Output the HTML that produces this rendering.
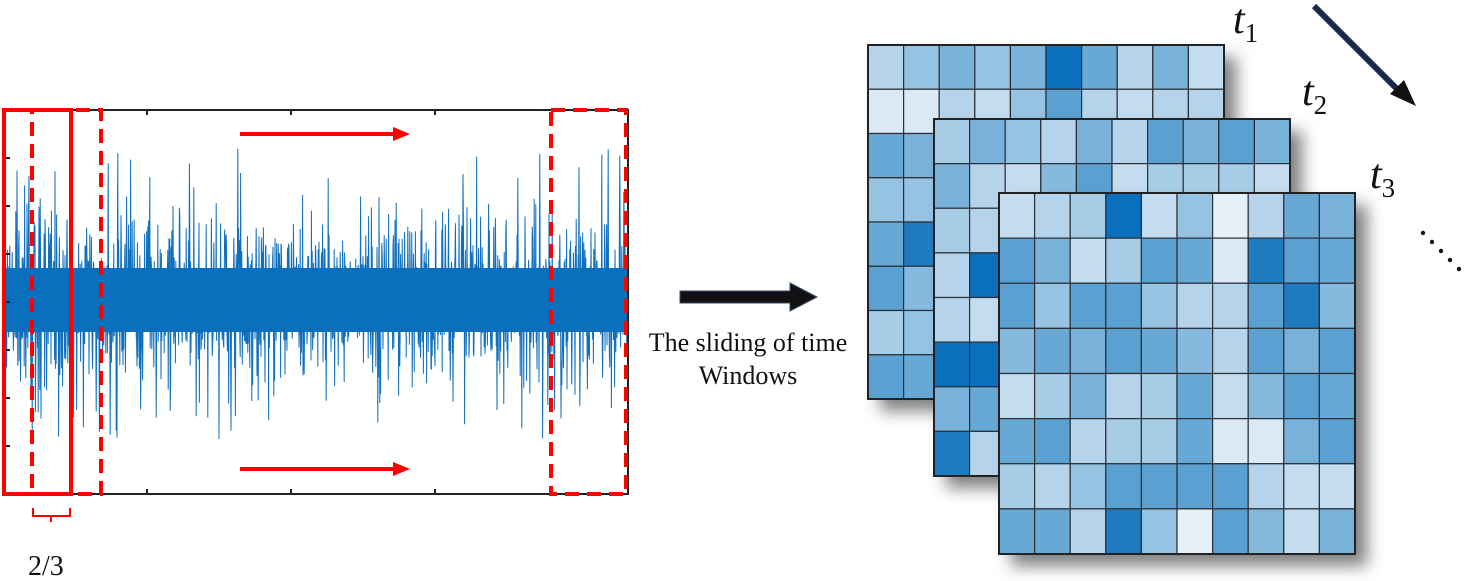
<!DOCTYPE html>
<html><head><meta charset="utf-8"><style>
html,body{margin:0;padding:0;background:#fff;width:1467px;height:581px;overflow:hidden;position:relative;font-family:"Liberation Serif",serif}
.t{position:absolute;font-style:italic;font-size:42px;color:#111}
.t sub{font-size:27px;font-style:normal;vertical-align:-9px}
.lbl{position:absolute;font-size:26px;color:#111;text-align:center;white-space:nowrap}
</style></head><body>
<svg id="s" width="1467" height="581" style="position:absolute;left:0;top:0">
<defs>
<filter id="sh" x="-10%" y="-10%" width="130%" height="130%"><feDropShadow dx="12" dy="12" stdDeviation="8" flood-color="#000" flood-opacity="0.5"/></filter>
</defs>
<g id="sig"></g>
<rect x="4" y="110" width="624" height="384" fill="none" stroke="#222" stroke-width="2"/>
<g stroke="#222" stroke-width="2">
<line x1="4" y1="158" x2="10" y2="158"/><line x1="4" y1="206" x2="10" y2="206"/><line x1="4" y1="254" x2="10" y2="254"/><line x1="4" y1="302" x2="10" y2="302"/><line x1="4" y1="350" x2="10" y2="350"/><line x1="4" y1="398" x2="10" y2="398"/><line x1="4" y1="446" x2="10" y2="446"/>
<line x1="147" y1="110" x2="147" y2="115"/><line x1="291" y1="110" x2="291" y2="115"/><line x1="435" y1="110" x2="435" y2="115"/><line x1="147" y1="494" x2="147" y2="489"/><line x1="291" y1="494" x2="291" y2="489"/><line x1="435" y1="494" x2="435" y2="489"/>
</g>
<rect x="4" y="110" width="67" height="384" fill="none" stroke="#f00" stroke-width="4"/>
<rect x="32" y="110" width="69" height="384" fill="none" stroke="#f00" stroke-width="4" stroke-dasharray="14,8"/>
<rect x="551" y="110" width="75" height="384" fill="none" stroke="#f00" stroke-width="4" stroke-dasharray="14,8"/>
<g fill="#f00" stroke="#f00" stroke-width="4">
<line x1="240" y1="134" x2="395" y2="134"/><path d="M393,127L410,134L393,141z" stroke="none"/>
<line x1="240" y1="469" x2="395" y2="469"/><path d="M393,462L410,469L393,476z" stroke="none"/>
</g>
<path d="M33,508 v8 h37 v-8 M51,516 v6" fill="none" stroke="#f00" stroke-width="2"/>
<path d="M680,291 h110 v-8 l27,14 l-27,14 v-8 h-110z" fill="#111" stroke="#3a4a6a" stroke-width="1"/>
<line x1="1314" y1="6" x2="1400" y2="92" stroke="#1a2a4a" stroke-width="6"/>
<path d="M1390,94 L1416,106 L1404,80 z" fill="#111"/>
<g fill="#111"><circle cx="1423" cy="233" r="2.2"/><circle cx="1432" cy="242" r="2.2"/><circle cx="1441" cy="251" r="2.2"/><circle cx="1450" cy="260" r="2.2"/><circle cx="1459" cy="269" r="2.2"/></g>
<g id="mats"></g>
</svg>
<div class="t" style="left:1233px;top:-4px">t<sub>1</sub></div>
<div class="t" style="left:1302px;top:68px">t<sub>2</sub></div>
<div class="t" style="left:1370px;top:151px">t<sub>3</sub></div>
<div class="lbl" style="left:640px;top:328px;width:216px">The sliding of time</div>
<div class="lbl" style="left:640px;top:361px;width:216px">Windows</div>
<div class="lbl" style="left:28px;top:551px;font-size:28px">2/3</div>
<script>
var ns="http://www.w3.org/2000/svg";
var seed=7;function r(){seed=(seed*16807)%2147483647;return seed/2147483647;}
function g(){return (r()+r()+r()+r()+r()+r()-3)/0.707;}
var d="M5,300";
for(var x=5;x<627;x+=0.4){var s=g()*36*(r()<0.25?1.9:1);var y=300+s;if(y<148)y=148+r()*20;if(y>442)y=442-r()*20;d+="L"+x.toFixed(2)+","+y.toFixed(1);}
var p=document.createElementNS(ns,"path");p.setAttribute("d",d);p.setAttribute("stroke","#1170bd");p.setAttribute("stroke-width","1");p.setAttribute("fill","none");
document.getElementById("sig").appendChild(p);
var band=document.createElementNS(ns,"rect");band.setAttribute("x",5);band.setAttribute("y",268);band.setAttribute("width",622);band.setAttribute("height",64);band.setAttribute("fill","#0a6fbd");document.getElementById("sig").appendChild(band);
var pal=["#c4dcef","#b5d4eb","#a6cce6","#96c3e2","#86b9de","#78b1da","#68a8d5","#5aa0d1","#4b96cc","#1f7bc0","#0a6fbd","#dbe9f5","#e6f0f8"];
function mat(x0,y0,w,h){var gg=document.getElementById("mats");
var grp=document.createElementNS(ns,"g");grp.setAttribute("filter","url(#sh)");gg.appendChild(grp);
var cw=w/10,ch=h/8;
var bg=document.createElementNS(ns,"rect");bg.setAttribute("x",x0);bg.setAttribute("y",y0);bg.setAttribute("width",w);bg.setAttribute("height",h);bg.setAttribute("fill","#9cc6e4");grp.appendChild(bg);
var g2=document.createElementNS(ns,"g");gg.appendChild(g2);
for(var i=0;i<8;i++)for(var j=0;j<10;j++){var k=Math.floor(r()*8);if(r()<0.05)k=9+Math.floor(r()*2);if(r()<0.06)k=11+Math.floor(r()*2);
var c=document.createElementNS(ns,"rect");c.setAttribute("x",x0+j*cw);c.setAttribute("y",y0+i*ch);c.setAttribute("width",cw);c.setAttribute("height",ch);c.setAttribute("fill",pal[k]);c.setAttribute("stroke","#2a2f36");c.setAttribute("stroke-width","1.2");g2.appendChild(c);}
var o=document.createElementNS(ns,"rect");o.setAttribute("x",x0);o.setAttribute("y",y0);o.setAttribute("width",w);o.setAttribute("height",h);o.setAttribute("fill","none");o.setAttribute("stroke","#222");o.setAttribute("stroke-width","2");g2.appendChild(o);}
mat(868,45,356,354);mat(934,119,356,357);mat(999,193,356,361);
</script>
</body></html>
